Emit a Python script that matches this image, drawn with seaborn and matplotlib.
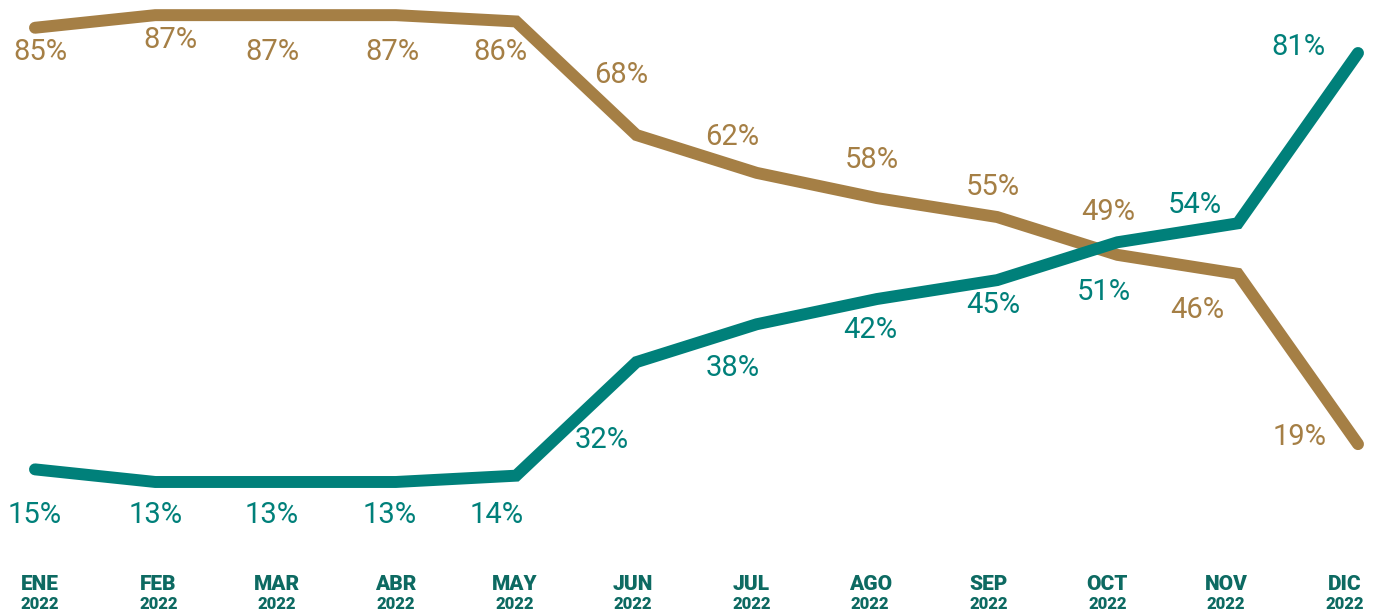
import pandas as pd
import seaborn as sns
from matplotlib import pyplot as plt
from matplotlib import transforms

# Chart data
months = ['ENE', 'FEB', 'MAR', 'ABR', 'MAY', 'JUN', 'JUL', 'AGO', 'SEP', 'OCT', 'NOV', 'DIC']
year = '2022'
gold_values = [85, 87, 87, 87, 86, 68, 62, 58, 55, 49, 46, 19]
teal_values = [15, 13, 13, 13, 14, 32, 38, 42, 45, 51, 54, 81]

# label offsets in pixels (dx, dy), hand placed like the original
gold_offsets = [(5, -24), (15, -25), (-3, -37), (-3, -37), (-16, -31), (-15, 60),
                (-24, 36), (-5, 38), (-4, 30), (-9, 43), (-40, -36), (-58, 7)]
teal_offsets = [(0, -46), (0, -33), (-4, -33), (-6, -33), (-19, -39), (-35, -78),
                (-24, -44), (-7, -31), (-4, -25), (-14, -50), (-43, 18), (-60, 6)]

GOLD = '#A57F45'
TEAL = '#00807A'
DARK_TEAL = '#0D6A62'

df = pd.DataFrame({
    'pos': list(range(len(months))) * 2,
    'value': gold_values + teal_values,
    'series': ['gold'] * len(months) + ['teal'] * len(months),
})

sns.set_style('white')
plt.rcParams['font.family'] = ['Roboto', 'DejaVu Sans']

fig = plt.figure(figsize=(13.75, 6.12), dpi=100)
ax = fig.add_axes([0, 48 / 612, 1, 1 - 48 / 612])

sns.lineplot(data=df, x='pos', y='value', hue='series', palette={'gold': GOLD, 'teal': TEAL},
             linewidth=8.6, legend=False, ax=ax, solid_joinstyle='miter')

ax.set_xlim(-35 / 120.3, 11 + 17 / 120.3)
ax.set_ylim(0, 89.4)
ax.axis('off')

for vals, offs, col in [(gold_values, gold_offsets, GOLD), (teal_values, teal_offsets, TEAL)]:
    for i, (v, (dx, dy)) in enumerate(zip(vals, offs)):
        ax.annotate(f"{v}%", xy=(i, v), xytext=(dx, dy), textcoords='offset pixels',
                    ha='center', va='center', fontsize=21, color=col, fontweight='normal')

# month / year labels under the chart (slightly tighter spacing than the line points)
for i, m in enumerate(months):
    xf = (40 + 118.6 * i) / 1375
    fig.text(xf, 1 - 584 / 612, m, ha='center', va='center',
             fontsize=15, fontweight='heavy', color=DARK_TEAL)
    fig.text(xf, 1 - 604 / 612, year, ha='center', va='center',
             fontsize=12, fontweight='heavy', color=DARK_TEAL)

plt.savefig('out.png', dpi=100)
